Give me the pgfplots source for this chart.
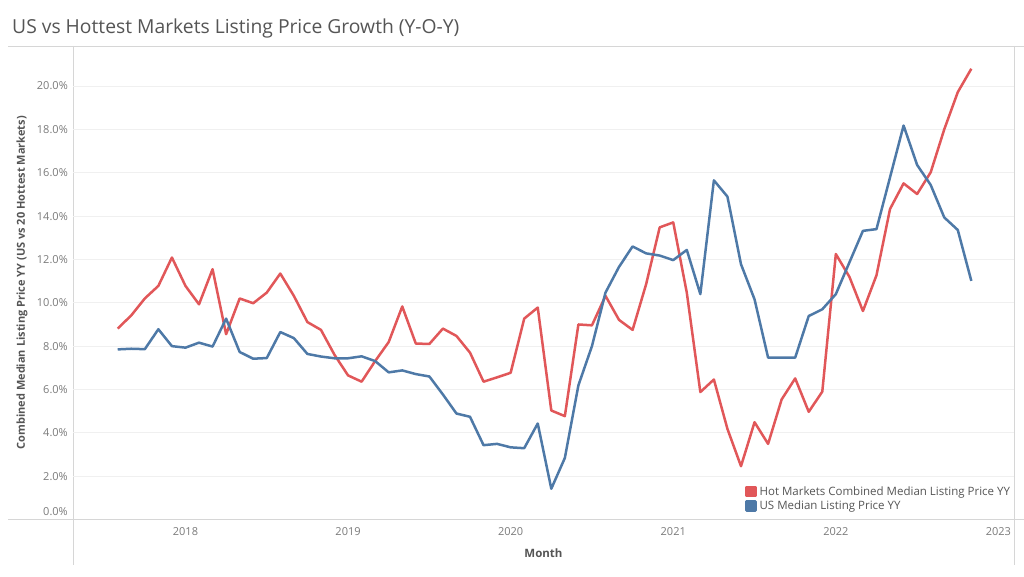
\documentclass[border=0pt]{standalone}
\usepackage{fontspec}
\setmainfont{Open Sans}
\usepackage{pgfplots}
\pgfplotsset{compat=1.18}
\definecolor{hot}{HTML}{E15759}
\definecolor{us}{HTML}{4E79A7}
\definecolor{tcol}{HTML}{555555}
\definecolor{lcol}{HTML}{7A7A7A}
\definecolor{gridc}{HTML}{F0F0F0}
\definecolor{axl}{HTML}{D6D6D6}
\begin{document}
\begin{tikzpicture}[x=1pt,y=1pt]
\useasboundingbox (0,0) rectangle (1024,576);
\node[anchor=base west, text=tcol, font=\fontsize{19.3}{21}\selectfont, inner sep=0] at (12,542) {US vs Hottest Markets Listing Price Growth (Y-O-Y)};
\draw[axl, line width=0.8pt] (8,530) -- (1024,530);
\draw[axl, line width=0.8pt] (8,56.5) -- (1024,56.5);
\draw[axl, line width=0.8pt] (73,530) -- (73,11);
\draw[axl, line width=0.8pt] (1014,530) -- (1014,11);
\begin{axis}[
  at={(73pt,56.5pt)}, anchor=south west,
  scale only axis, width=941pt, height=473.5pt,
  xmin=-8.3, xmax=61.15, ymin=0, ymax=21.85,
  axis line style={draw=none},
  major tick style={draw=none},
  ytick={2,4,...,20},
  yticklabels={2.0\%,4.0\%,6.0\%,8.0\%,10.0\%,12.0\%,14.0\%,16.0\%,18.0\%,20.0\%},
  extra y ticks={0},
  extra y tick labels={0.0\%},
  extra y tick style={yticklabel style={yshift=7.5pt}, grid=none},
  xtick={0,12,24,36,48,60},
  xticklabels={2018,2019,2020,2021,2022,2023},
  ymajorgrids,
  grid style={gridc, line width=0.8pt},
  tick label style={font=\fontsize{11}{12}\selectfont, text=lcol},
  yticklabel style={anchor=east, inner sep=0pt, xshift=-5pt},
  xticklabel style={anchor=north, inner sep=0pt, yshift=-8pt},
  ylabel={Combined Median Listing Price YY (US vs 20 Hottest Markets)},
  ylabel style={at={(axis description cs:-0.0542,0.5)}, anchor=center, font=\bfseries\fontsize{11}{12}\selectfont, text=tcol},
  xlabel={Month},
  xlabel style={at={(axis description cs:0.5,-0.0709)}, anchor=center, font=\bfseries\fontsize{11.5}{12}\selectfont, text=tcol},
  legend style={at={(0.714,0.072)}, anchor=north west, draw=none, fill=none, inner sep=0pt,
    font=\fontsize{11.5}{13}\selectfont, text=tcol, row sep=2pt,
    nodes={inner xsep=3pt, inner ysep=1pt}},
  legend cell align=left,
  legend image code/.code={\fill (0pt,-4.5pt) rectangle (9pt,4.5pt);},
  clip=false,
]
\addplot[hot, line width=2.5pt, line join=round] coordinates {
(-5,8.81)(-4,9.42)(-3,10.2)(-2,10.78)(-1,12.09)(0,10.78)(1,9.93)(2,11.55)(3,8.55)(4,10.2)
(5,9.98)(6,10.47)(7,11.35)(8,10.32)(9,9.11)(10,8.75)(11,7.6)(12,6.65)(13,6.36)(14,7.31)
(15,8.19)(16,9.83)(17,8.12)(18,8.1)(19,8.81)(20,8.47)(21,7.7)(22,6.36)(23,6.56)(24,6.77)
(25,9.27)(26,9.78)(27,5.03)(28,4.77)(29,9.0)(30,8.96)(31,10.32)(32,9.21)(33,8.75)(34,10.86)
(35,13.48)(36,13.71)(37,10.47)(38,5.88)(39,6.46)(40,4.18)(41,2.46)(42,4.49)(43,3.49)(44,5.54)
(45,6.51)(46,4.97)(47,5.9)(48,12.25)(49,11.2)(50,9.62)(51,11.27)(52,14.33)(53,15.51)(54,15.02)
(55,16.02)(56,18.0)(57,19.72)(58,20.8)
};
\addlegendentry{Hot Markets Combined Median Listing Price YY}
\addplot[us, line width=2.5pt, line join=round] coordinates {
(-5,7.85)(-4,7.88)(-3,7.86)(-2,8.78)(-1,8.0)(0,7.93)(1,8.16)(2,7.98)(3,9.27)(4,7.73)
(5,7.42)(6,7.45)(7,8.65)(8,8.37)(9,7.64)(10,7.52)(11,7.44)(12,7.44)(13,7.53)(14,7.31)
(15,6.79)(16,6.88)(17,6.71)(18,6.6)(19,5.77)(20,4.89)(21,4.74)(22,3.43)(23,3.49)(24,3.33)
(25,3.29)(26,4.43)(27,1.42)(28,2.84)(29,6.19)(30,8.0)(31,10.47)(32,11.66)(33,12.6)(34,12.28)
(35,12.18)(36,11.97)(37,12.44)(38,10.4)(39,15.65)(40,14.9)(41,11.78)(42,10.16)(43,7.47)(44,7.47)
(45,7.47)(46,9.39)(47,9.7)(48,10.4)(49,11.86)(50,13.32)(51,13.4)(52,15.79)(53,18.18)(54,16.36)
(55,15.44)(56,13.94)(57,13.36)(58,11.01)
};
\addlegendentry{US Median Listing Price YY}
\end{axis}
\end{tikzpicture}
\end{document}
